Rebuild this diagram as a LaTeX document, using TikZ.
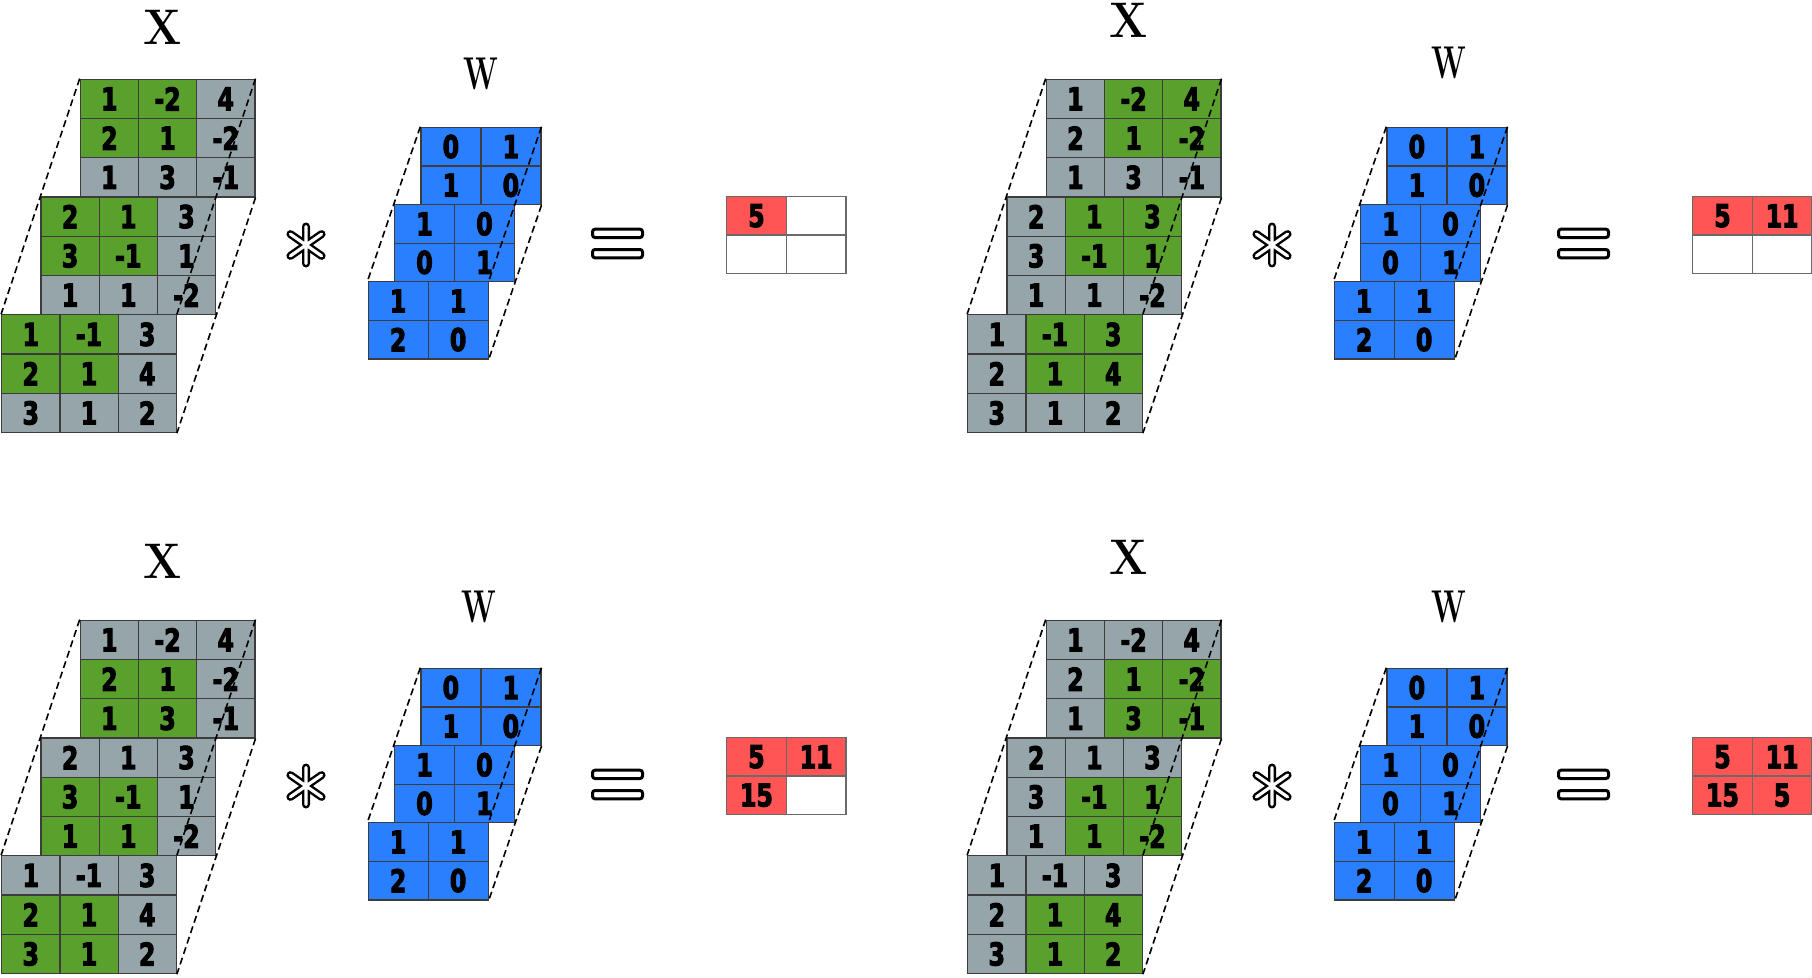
\documentclass[tikz,border=0pt]{standalone}
\usepackage{fontspec}
\usepackage{graphicx}
\newfontfamily\numfont{DejaVu Sans}[FakeStretch=0.75, FakeBold=3]
\definecolor{xgreen}{HTML}{5AA02C}
\definecolor{xgray}{HTML}{95A5A9}
\definecolor{wblue}{HTML}{2A7FFF}
\definecolor{ored}{HTML}{FF5555}
\definecolor{gridline}{HTML}{3C3C3C}
\definecolor{ogrid}{HTML}{6A6A6A}

\tikzset{
  cellbase/.style={draw=gridline, line width=1.2pt, inner sep=0pt, anchor=north west,
    font=\numfont\bfseries\fontsize{31.5}{32}\selectfont},
  xcell/.style={cellbase, minimum width=58.2pt, minimum height=39.27pt},
  wcell/.style={cellbase, fill=wblue, minimum width=60pt, minimum height=38.6pt},
  ocell/.style={cellbase, draw=ogrid, minimum width=59.7pt, minimum height=38.4pt},
  dashline/.style={black, line width=1.6pt, dash pattern=on 7pt off 4pt},
  xlabel/.style={font=\fontsize{50}{50}\selectfont\bfseries, inner sep=0pt},
  wlabel/.style={font=\fontsize{46}{46}\selectfont\bfseries, inner sep=0pt},
  eqbar/.style={draw=black, fill=white, line width=3pt, rounded corners=2.5pt},
}

% 3x3 slab of X: name, x, y, values, first green row, first green column
\newcommand\xslab[6]{%
  \foreach \v [count=\i from 0] in {#4} {
    \pgfmathtruncatemacro\xr{int(\i/3)}
    \pgfmathtruncatemacro\xc{mod(\i,3)}
    \pgfmathtruncatemacro\xg{and(and(\xr>#5-1,\xr<#5+2),and(\xc>#6-1,\xc<#6+2))}
    \ifnum\xg=1 \def\xfc{xgreen}\else\def\xfc{xgray}\fi
    \node[xcell, fill=\xfc] (#1-\xr-\xc) at ({#2+\xc*58.2},{#3+\xr*39.27}) {\v};
  }%
}
% 2x2 slab of W: name, x, y, values
\newcommand\wslab[4]{%
  \foreach \v [count=\i from 0] in {#4} {
    \pgfmathtruncatemacro\xr{int(\i/2)}
    \pgfmathtruncatemacro\xc{mod(\i,2)}
    \node[wcell] (#1-\xr-\xc) at ({#2+\xc*60},{#3+\xr*38.6}) {\v};
  }%
}
% 2x2 output grid: name, x, y, values (0 = empty)
\newcommand\oslab[4]{%
  \foreach \v [count=\i from 0] in {#4} {
    \pgfmathtruncatemacro\xr{int(\i/2)}
    \pgfmathtruncatemacro\xc{mod(\i,2)}
    \ifnum\v=0 \def\xfc{white}\def\xt{}\else\def\xfc{ored}\def\xt{\v}\fi
    \node[ocell, fill=\xfc] (#1-\xr-\xc) at ({#2+\xc*59.7},{#3+\xr*38.4}) {\xt};
  }%
}
% one panel: id, green row, green col, X label y, W label x, W label y, outputs
\newcommand\panel[7]{%
  \node[xlabel] (#1X) at (162.5,#4) {\scalebox{0.9}[1]{X}};
  \node[wlabel] (#1W) at (#5,#6) {\scalebox{0.65}[1]{W}};
  \xslab{#1Xa}{79.7}{78.6}{1,-2,4,2,1,-2,1,3,-1}{#2}{#3}
  \xslab{#1Xb}{40.4}{196.4}{2,1,3,3,-1,1,1,1,-2}{#2}{#3}
  \xslab{#1Xc}{1.1}{314.2}{1,-1,3,2,1,4,3,1,2}{#2}{#3}
  \draw[dashline] (#1Xa-0-0.north west) -- (#1Xc-0-0.north west);
  \draw[dashline] (#1Xa-0-2.north east) -- (#1Xc-0-2.north east);
  \draw[dashline] (#1Xa-2-2.south east) -- (#1Xc-2-2.south east);
  \wslab{#1Wa}{420.3}{126.7}{0,1,1,0}
  \wslab{#1Wb}{393.9}{203.9}{1,0,0,1}
  \wslab{#1Wc}{367.5}{281.1}{1,1,2,0}
  \draw[dashline] (#1Wa-0-0.north west) -- (#1Wc-0-0.north west);
  \draw[dashline] (#1Wa-0-1.north east) -- (#1Wc-0-1.north east);
  \draw[dashline] (#1Wa-1-1.south east) -- (#1Wc-1-1.south east);
  % asterisk
  \foreach \lw/\cl in {8pt/black, 3.2pt/white} {
    \draw[line width=\lw, color=\cl, line cap=round]
      (306,226.5) -- (306,263.5)
      (290.4,234.1) -- (321.6,255.9)
      (290.4,255.9) -- (321.6,234.1);
  }
  % equals
  \draw[eqbar] (592.5,229.2) rectangle (642.5,237.5);
  \draw[eqbar] (592.5,249.5) rectangle (642.5,257.8);
  \oslab{#1O}{726}{196}{#7}
}

\begin{document}
\begin{tikzpicture}[x=1pt, y=-1pt]
\useasboundingbox (0,0) rectangle (1812,977);
\fill[white] (0,0) rectangle (1812,977);
\begin{scope}
  \panel{P1}{0}{0}{27}{481}{74}{5,0,0,0}
\end{scope}
\begin{scope}[shift={(966,0)}]
  \panel{P2}{0}{1}{20.5}{483.3}{63}{5,11,0,0}
\end{scope}
\begin{scope}[shift={(0,541)}]
  \panel{P3}{1}{0}{20.5}{478.6}{66.3}{5,11,15,0}
\end{scope}
\begin{scope}[shift={(966,541)}]
  \panel{P4}{1}{1}{16.5}{483.3}{66}{5,11,15,5}
\end{scope}
\end{tikzpicture}
\end{document}
